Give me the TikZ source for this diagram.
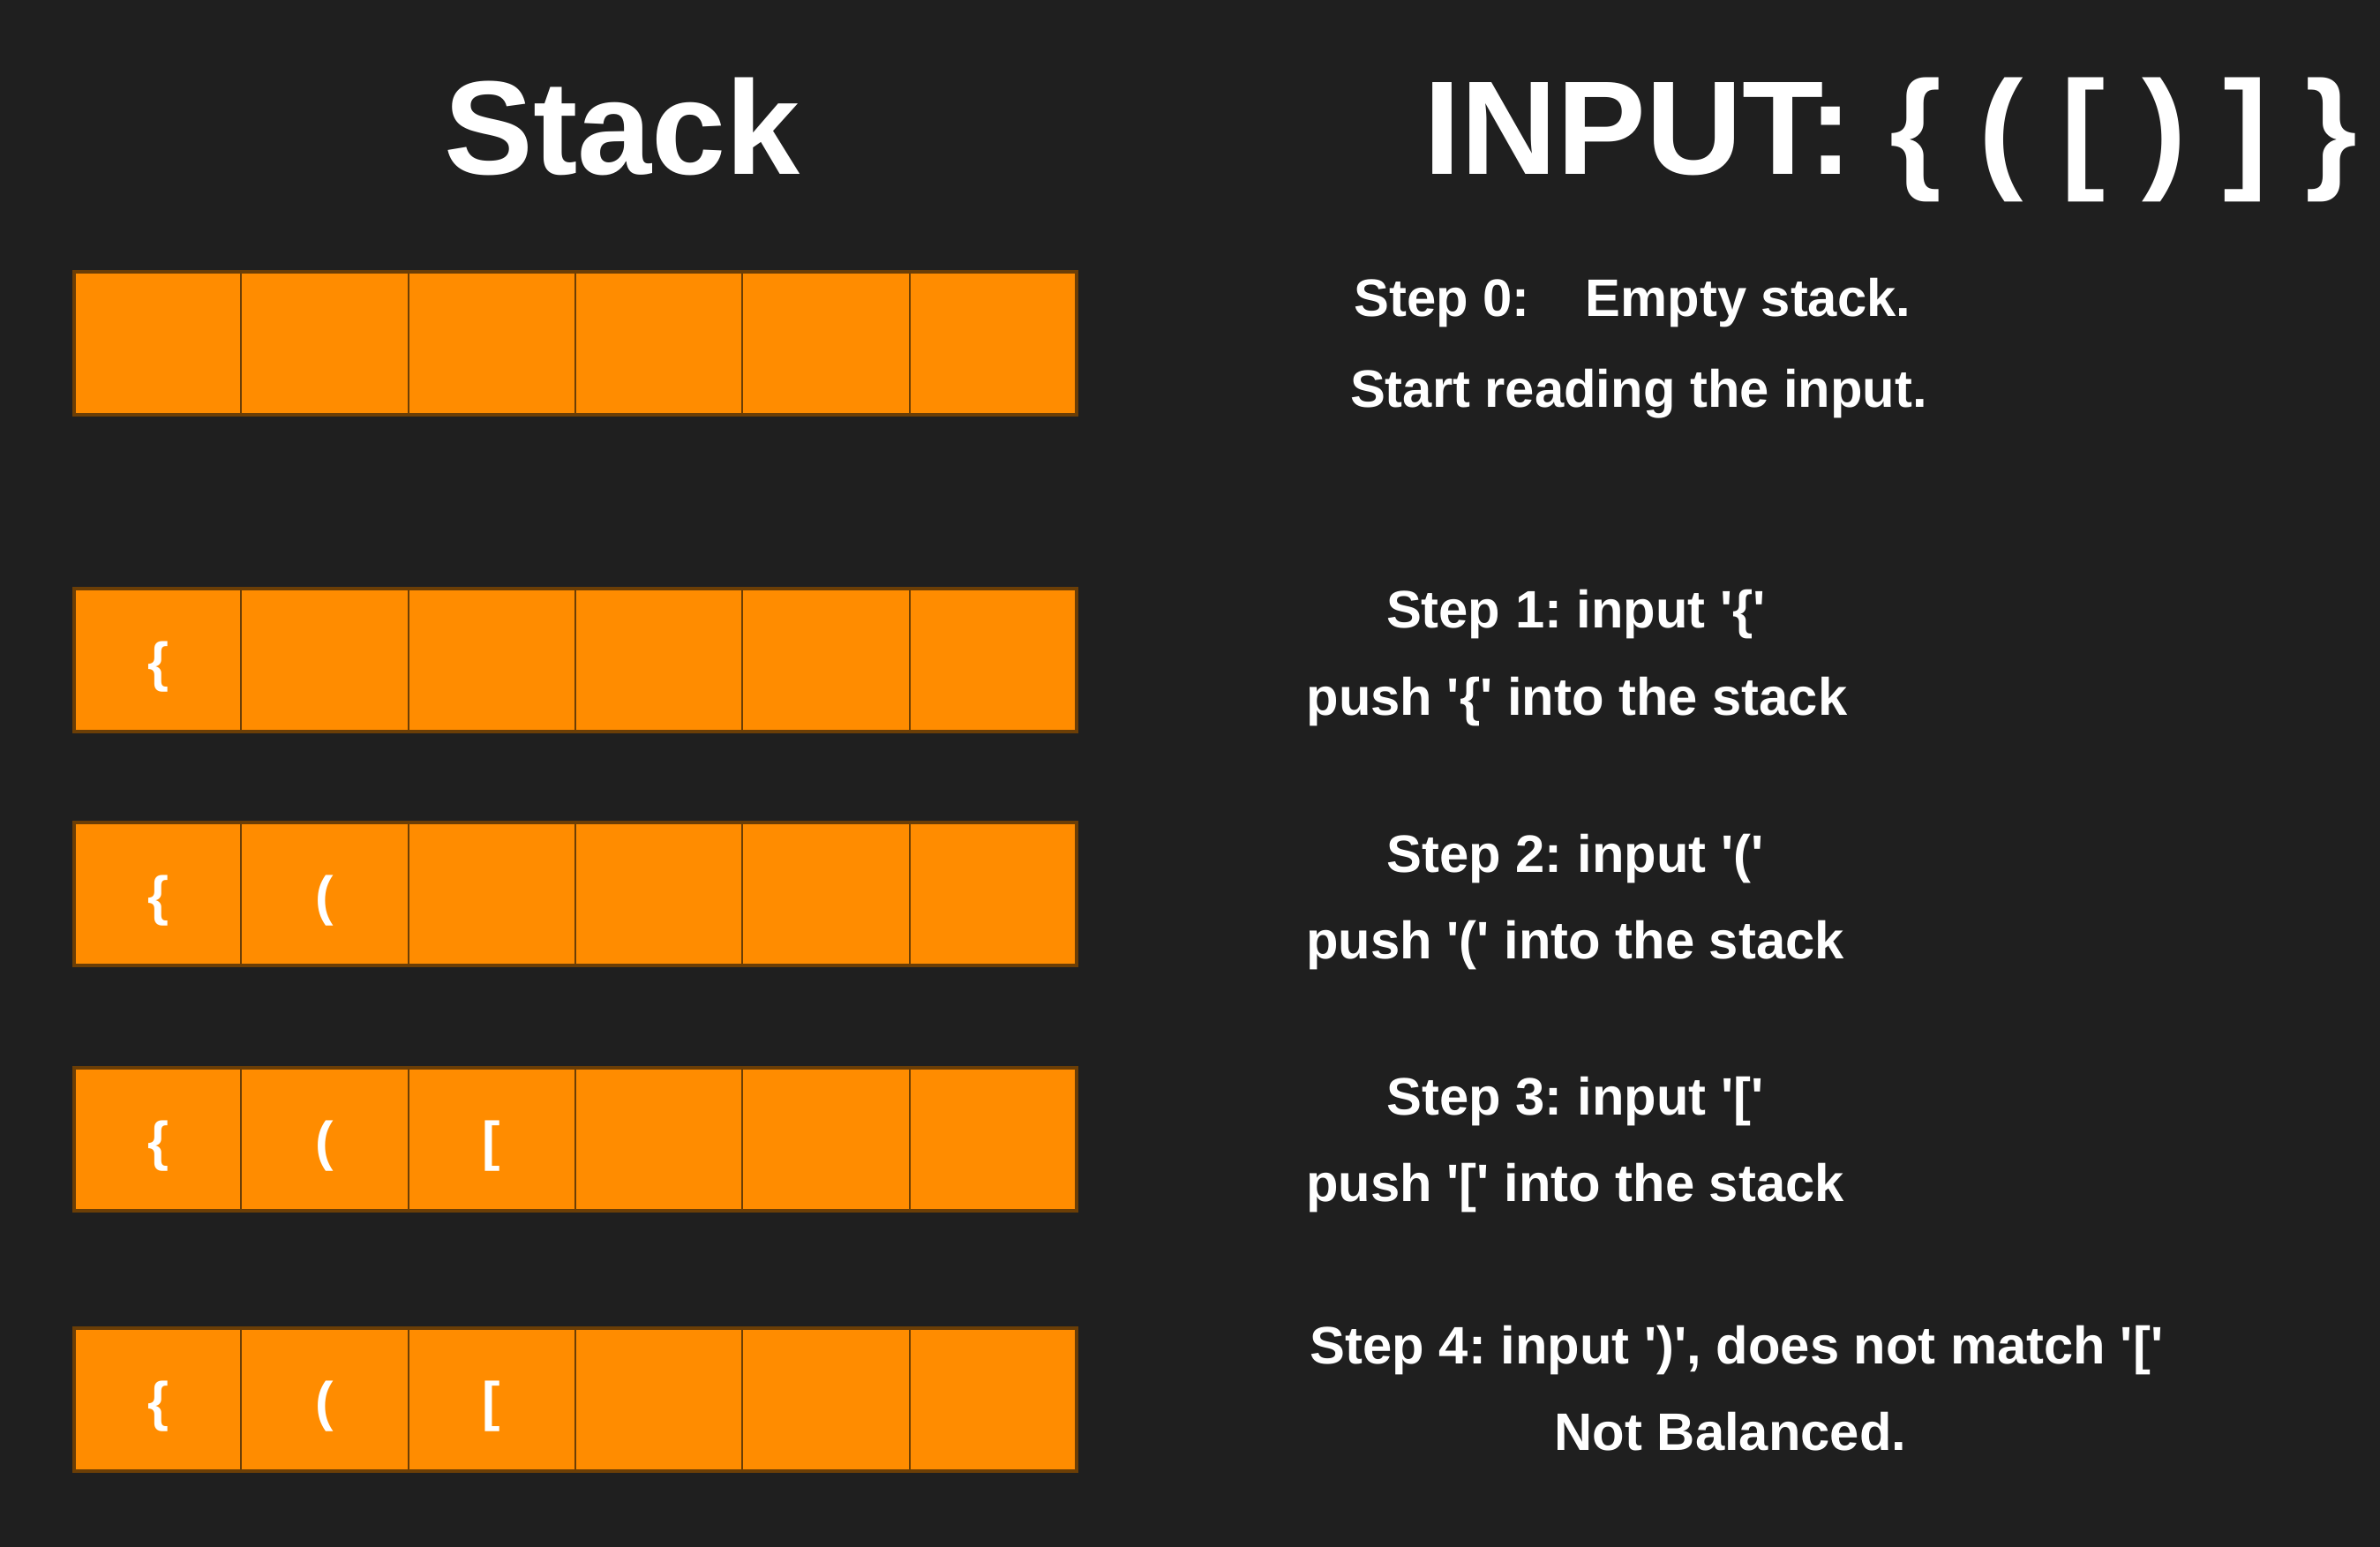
\documentclass[tikz,border=0pt]{standalone}
\usepackage{fontspec}
\setmainfont{Liberation Sans}
\frenchspacing
\definecolor{board}{HTML}{1F1F1F}
\definecolor{cellfill}{HTML}{FF8C00}
\definecolor{celledge}{HTML}{6B3E06}
\newcommand{\sq}{\textquotesingle}

\begin{document}
\begin{tikzpicture}[
    heading/.style={text=white, font=\fontsize{43}{50}\selectfont\bfseries, inner sep=0pt, anchor=base},
    steptext/.style={text=white, font=\fontsize{17}{20}\selectfont\bfseries, inner sep=0pt, anchor=base},
    bracket/.style={text=white, font=\fontsize{17.5}{20}\selectfont\bfseries, inner sep=0pt, anchor=base},
    stackrow/.style={fill=cellfill, draw=celledge, line width=0.9pt},
    divider/.style={draw=celledge, line width=0.8pt}]
        % Draw the background.
        \fill[board] (0,0) rectangle (26.97,-17.53);
        % Specify the headings.
        \node[heading] (stacktitle) at (7.05,-1.98) {Stack};
        \node[heading] (inputtitle) at (21.42,-1.98) {INPUT: \{ ( [ ) ] \}};
        % Draw the stack at step 0.
        \draw[stackrow] (0.84,-3.08) rectangle (12.20,-4.70);
        \draw[divider] (2.73,-3.08) -- (2.73,-4.70) (4.63,-3.08) -- (4.63,-4.70) (6.52,-3.08) -- (6.52,-4.70) (8.41,-3.08) -- (8.41,-4.70) (10.31,-3.08) -- (10.31,-4.70);
        % Draw the stack at step 1.
        \draw[stackrow] (0.84,-6.67) rectangle (12.20,-8.29);
        \draw[divider] (2.73,-6.67) -- (2.73,-8.29) (4.63,-6.67) -- (4.63,-8.29) (6.52,-6.67) -- (6.52,-8.29) (8.41,-6.67) -- (8.41,-8.29) (10.31,-6.67) -- (10.31,-8.29);
        \node[bracket] (oneA) at (1.79,-7.71) {\{};
        % Draw the stack at step 2.
        \draw[stackrow] (0.84,-9.32) rectangle (12.20,-10.94);
        \draw[divider] (2.73,-9.32) -- (2.73,-10.94) (4.63,-9.32) -- (4.63,-10.94) (6.52,-9.32) -- (6.52,-10.94) (8.41,-9.32) -- (8.41,-10.94) (10.31,-9.32) -- (10.31,-10.94);
        \node[bracket] (twoA) at (1.79,-10.36) {\{};
        \node[bracket] (twoB) at (3.68,-10.36) {(};
        % Draw the stack at step 3.
        \draw[stackrow] (0.84,-12.10) rectangle (12.20,-13.72);
        \draw[divider] (2.73,-12.10) -- (2.73,-13.72) (4.63,-12.10) -- (4.63,-13.72) (6.52,-12.10) -- (6.52,-13.72) (8.41,-12.10) -- (8.41,-13.72) (10.31,-12.10) -- (10.31,-13.72);
        \node[bracket] (threeA) at (1.79,-13.14) {\{};
        \node[bracket] (threeB) at (3.68,-13.14) {(};
        \node[bracket] (threeC) at (5.57,-13.14) {[};
        % Draw the stack at step 4.
        \draw[stackrow] (0.84,-15.05) rectangle (12.20,-16.67);
        \draw[divider] (2.73,-15.05) -- (2.73,-16.67) (4.63,-15.05) -- (4.63,-16.67) (6.52,-15.05) -- (6.52,-16.67) (8.41,-15.05) -- (8.41,-16.67) (10.31,-15.05) -- (10.31,-16.67);
        \node[bracket] (fourA) at (1.79,-16.09) {\{};
        \node[bracket] (fourB) at (3.68,-16.09) {(};
        \node[bracket] (fourC) at (5.57,-16.09) {[};
        % Specify the step texts.
        \node[steptext] (stepzero) at (18.50,-3.59) {Step 0:\hspace{1.05em}Empty stack.};
        \node[steptext] (notezero) at (18.57,-4.62) {Start reading the input.};
        \node[steptext] (stepone) at (17.86,-7.11) {Step 1: input \sq\{\sq};
        \node[steptext] (noteone) at (17.87,-8.10) {push \sq\{\sq{} into the stack};
        \node[steptext] (steptwo) at (17.85,-9.88) {Step 2: input \sq(\sq};
        \node[steptext] (notetwo) at (17.85,-10.86) {push \sq(\sq{} into the stack};
        \node[steptext] (stepthree) at (17.85,-12.63) {Step 3: input \sq[\sq};
        \node[steptext] (notethree) at (17.85,-13.61) {push \sq[\sq{} into the stack};
        \node[steptext] (stepfour) at (19.68,-15.45) {Step 4: input \sq)\sq, does not match \sq[\sq};
        \node[steptext] (notefour) at (19.61,-16.43) {Not Balanced.};
    \end{tikzpicture}
\end{document}
